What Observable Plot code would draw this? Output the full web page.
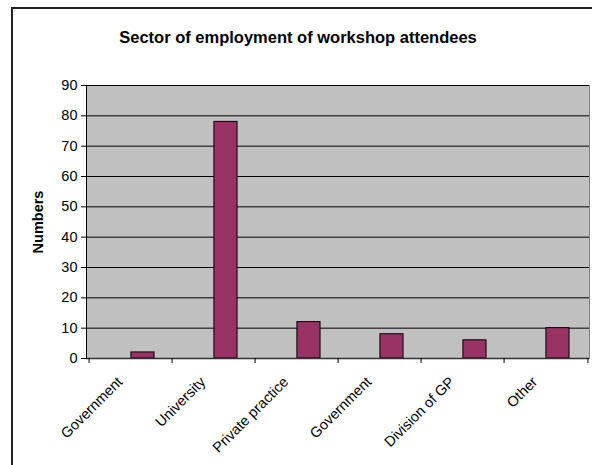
<!DOCTYPE html>
<html>
<head>
<meta charset="utf-8">
<script src="https://cdn.jsdelivr.net/npm/d3@7"></script>
<script src="https://cdn.jsdelivr.net/npm/@observablehq/plot@0.6"></script>
<style>
  html, body { margin: 0; padding: 0; background: #fff; overflow: hidden; }
  #wrap { position: relative; width: 592px; height: 465px; font-family: "Liberation Sans", Arial, sans-serif; }
  #border { position: absolute; left: 11px; top: 7px; width: 640px; height: 520px; border: 2px solid #222; box-sizing: border-box; }
  #title { position: absolute; left: 0; width: 596px; top: 28px; text-align: center; font-weight: bold; font-size: 16.5px; color: #000; }
  #chart { position: absolute; left: 0; top: 0; }
  #chart svg text { fill: #000; font-size: 14.5px; }
  #chart svg g[aria-label='y-axis label'] text { font-weight: bold; font-size: 14.5px; }
</style>
</head>
<body>
<div id="wrap">
  <div id="border"></div>
  <div id="title">Sector of employment of workshop attendees</div>
  <div id="chart"></div>
</div>
<script>
const categories = ["Government", "University", "Private practice", "Government", "Division of GP", "Other"];
const values = [2, 78, 12, 8, 6, 10];
const yTicks = [0, 10, 20, 30, 40, 50, 60, 70, 80, 90];

const data = categories.map((c, i) => ({i, label: c, value: values[i]}));
const idx = data.map(d => d.i);

const W = 592, H = 465, mL = 86, mR = 3, mT = 85, mB = 107;
const bw = (W - mL - mR) / categories.length;
const barW = bw / 3.5;

const chart = Plot.plot({
  width: W,
  height: H,
  marginLeft: mL,
  marginRight: mR,
  marginTop: mT,
  marginBottom: mB,
  style: {fontFamily: "'Liberation Sans', Arial, sans-serif", fontSize: "14.5px", background: "transparent", color: "#000"},
  x: {type: "band", domain: idx, padding: 0, axis: null},
  y: {domain: [0, 90], axis: null},
  marks: [
    Plot.frame({fill: "#c0c0c0", stroke: "#808080"}),
    Plot.ruleY(yTicks.slice(1), {stroke: "#000", strokeWidth: 1}),
    Plot.barY(data, {x: "i", y: "value", fill: "#993366", stroke: "#000", strokeWidth: 1,
      insetLeft: bw / 2, insetRight: bw / 2 - barW}),
    Plot.ruleY([0], {stroke: "#333", strokeWidth: 1.5}),
    Plot.frame({anchor: "left", stroke: "#000"}),
    Plot.axisY({ticks: yTicks, tickSize: 5, tickPadding: 4,
      label: "Numbers", labelAnchor: "center", labelArrow: "none", labelOffset: 54}),
    Plot.axisX(idx, {tickSize: 5, tickFormat: () => "", dx: -bw / 2, label: null}),
    Plot.axisX([idx[idx.length - 1]], {tickSize: 5, tickFormat: () => "", dx: bw / 2, label: null}),
    Plot.axisX(idx, {tickSize: 0, tickPadding: 16, tickRotate: -45, dx: -11, dy: 5,
      tickFormat: i => categories[i], label: null})
  ]
});
document.getElementById("chart").appendChild(chart);
</script>
</body>
</html>
